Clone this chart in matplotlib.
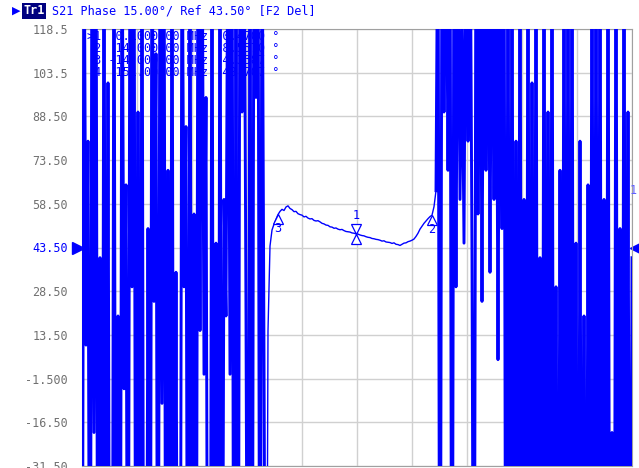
import numpy as np
import matplotlib.pyplot as plt
from matplotlib.transforms import offset_copy

# sweep in MHz, phase in degrees
f_start, f_stop = 101.0, 201.0

# left part: phase wrapping noise
phase_left = [-175, 175, 10, 80, -175, 175, -20, 175, -175, 40,
              -175, 175, -175, 100, -175, -175, 175, -175, 20, -175,
              175, -5, 65, -175, 175, 30, 175, -175, 90, -175,
              175, -175, -175, 50, -175, 175, 25, 110, -175, 175,
              -10, 175, -175, 70, -175, 175, -175, 35, -175, -175,
              175, 30, 85, -175, 175, -175, 55, -175, 175, 15,
              175, 0, 95, -175, -175, 175, -175, 45, -175, 175,
              -175, 60, 20, 175, 0, 175, -175, 120, -175,
              175, 90, 175, 20, -175, 175, -175, 175, 95, 175, -175, 175, 5]

# passband: smooth phase
phase_mid = [-175, 15, 44.0, 49.5, 51.5, 53.2, 54.8, 55.9, 56.6, 56.2,
             57.4, 57.8, 56.9, 56.5, 55.8, 55.9, 55.1, 54.8, 54.6, 54.0,
             54.2, 53.6, 53.3, 53.4, 52.8, 52.6, 52.7, 52.3, 51.8, 51.6,
             51.2, 51.1, 50.6, 50.5, 50.1, 50.2, 49.8, 49.6, 49.7, 49.3,
             49.0, 48.9, 48.8, 48.5, 48.4, 48.2, 48.1, 47.8, 47.6, 47.5,
             47.2, 47.0, 46.9, 46.6, 46.5, 46.3, 46.2, 46.0, 45.7, 45.8,
             45.4, 45.3, 45.2, 44.9, 45.1, 44.6, 44.5, 44.2, 44.6, 45.0,
             45.1, 45.5, 45.7, 46.0, 46.4, 47.3, 48.4, 49.8, 50.8, 51.8,
             52.6, 53.4, 54.1, 54.6, 57.5, 63.0]

# right part: phase wrapping noise again
phase_right = [175, -175, 175, 90, 175, 70, 175, -175,
               175, 30, 175, 60, 120, 45, 175, 80, 175, 40,
               -175, 175, 55, 175, 25, 175, 70, 175, 35, 175,
               60, 175, 5, 175, 50, 175,
               -175, 175, -175, 175, -175, 80, -175, 175, -175, 60,
               -175, 175, -175, 100, -175, 175, -175, 40, -175, 175,
               -175, 90, -175, 175, -175, 30, -175, 70, -175, 175,
               -175, 175, -175, 175, -175, 45, -175, 80, -175, 20,
               -175, 65, -175, 175, -175, 175, -175, 175, -175, 60,
               -175, 175, -175, -20, -175, 175, -175, 50, -175, 175,
               -175, 90, -175, 40]

phase = phase_left + phase_mid + phase_right
assert len(phase) == 276, len(phase)
freq = np.linspace(f_start, f_stop, len(phase))
n_left = len(phase_left)
n_mid_end = n_left + len(phase_mid)

marker_idx = [137, 175, 98]
marker_lbl = ['1', '2', '3']

ref_val = 43.5
scale = 15.0
y_labels = ['118.5', '103.5', '88.50', '73.50', '58.50', '43.50',
            '28.50', '13.50', '-1.500', '-16.50', '-31.50']
y_ticks = [ref_val + scale * k for k in range(5, -6, -1)]

table_rows = ['>1  0.1000000 MHz  0.4700 \u00b0',
              ' 2  14.000000 MHz  8.5570 \u00b0',
              ' 3 -14.000000 MHz  4.3387 \u00b0',
              ' 4  151.00000 MHz  48.707 \u00b0']

blue = '#0000ff'
grey = '#707070'
mono = 'DejaVu Sans Mono'
W, H = 639, 468

fig = plt.figure(figsize=(6.39, 4.68), dpi=100)
ax = fig.add_axes([82 / W, 2 / H, 550 / W, 437 / H])

# noisy parts drawn heavier, the passband thinner
ax.plot(freq[:n_left + 1], phase[:n_left + 1], color=blue, lw=2.1, zorder=3)
ax.plot(freq[n_left:n_mid_end + 1], phase[n_left:n_mid_end + 1], color=blue, lw=1.0, zorder=3)
ax.plot(freq[n_mid_end - 1:], phase[n_mid_end - 1:], color=blue, lw=2.1, zorder=3)
ax.set_xlim(f_start, f_stop)
ax.set_ylim(y_ticks[-1], y_ticks[0])

ax.set_xticks(np.linspace(f_start, f_stop, 11))
ax.set_xticklabels([])
ax.set_yticks(y_ticks)
ax.set_yticklabels(y_labels, family=mono, fontsize=8.5, color=grey)
ax.tick_params(length=0, pad=10)
ax.get_yticklabels()[5].set_color(blue)
ax.grid(True, color='#d0d0d0', lw=1.0)
for s in ax.spines.values():
    s.set_color('#a0a0a0')

# markers on the trace
tri_up = offset_copy(ax.transData, fig=fig, x=0, y=-3.5, units='points')
tri_dn = offset_copy(ax.transData, fig=fig, x=0, y=3.5, units='points')
for k, (i, lbl) in enumerate(zip(marker_idx, marker_lbl)):
    ax.plot(freq[i], phase[i], marker='^', ms=6.5, mfc='white', mec=blue,
            mew=0.9, transform=tri_up, zorder=4)
    if k == 0:
        ax.plot(freq[i], phase[i], marker='v', ms=6.5, mfc='white', mec=blue,
                mew=0.9, transform=tri_dn, zorder=4)
        dy = 13
    else:
        dy = -10
    ax.annotate(lbl, (freq[i], phase[i]), xytext=(0, dy), textcoords='offset points',
                ha='center', va='center', color=blue, family=mono, fontsize=8.5, zorder=4)

# marker table
for r, row in enumerate(table_rows):
    fig.text(87 / W, 1 - (37 + 11.7 * r) / H, row, family=mono, fontsize=8.5,
             color=blue, ha='left', va='center', zorder=2)

# reference level pointers
ytr = ax.get_yaxis_transform()
ax.plot([-0.008], [ref_val], marker='>', ms=8, color=blue, transform=ytr, clip_on=False)
ax.plot([1.008], [ref_val], marker='<', ms=8, color=blue, transform=ytr, clip_on=False)
fig.text(630 / W, 1 - 190 / H, '1', color='#6060ff', family=mono,
         fontsize=8.5, ha='left', va='center')

# header line
fig.text(12 / W, 1 - 11 / H, '\u25b6', color=blue, fontsize=8, va='center', ha='left')
fig.text(23 / W, 1 - 11 / H, 'Tr1', color='white', family=mono, fontsize=8.5,
         fontweight='bold', va='center', ha='left',
         bbox=dict(boxstyle='square,pad=0.1', facecolor='#000080', edgecolor='none'))
fig.text(52 / W, 1 - 11 / H, 'S21 Phase 15.00\u00b0/ Ref 43.50\u00b0 [F2 Del]',
         color=blue, family=mono, fontsize=8.5, va='center', ha='left')

fig.savefig('out.png', dpi=100)
